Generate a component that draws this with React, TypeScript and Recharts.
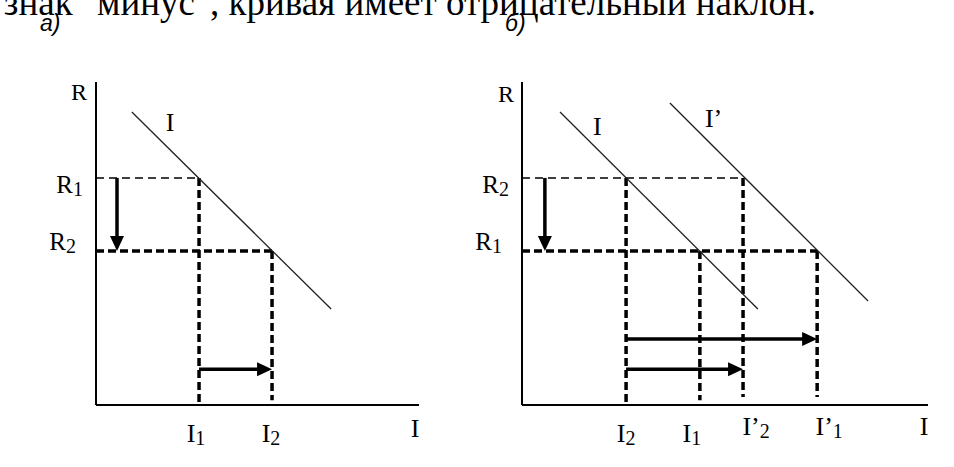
import React from 'react';
import { ComposedChart, Line, XAxis, YAxis, ReferenceLine, LabelList } from 'recharts';

// ---------- text ----------
const headerText = 'знак "минус", кривая имеет отрицательный наклон.';
const panelTitles = ['а)', 'б)'];
const axisNames = { y: 'R', x: 'I' };

// ---------- panel а) ----------
const leftYTicks = [7.03, 4.77];
const leftYLabels = ['R1', 'R2'];
const leftXTicks = [3.19, 5.45];
const leftXLabels = ['I1', 'I2'];
const leftCurve = [
  { x: 1.11, y: 9.07 },
  { x: 7.28, y: 2.97 },
];
const leftCurveName = 'I';
const leftThinGuides = [[{ x: 0, y: 7.03 }, { x: 3.19, y: 7.03 }]];
const leftThickGuides = [
  [{ x: 0, y: 4.77 }, { x: 5.45, y: 4.77 }],
  [{ x: 3.19, y: 7.03 }, { x: 3.19, y: 0 }],
  [{ x: 5.45, y: 4.77 }, { x: 5.45, y: 0.15 }],
];
const leftArrows = [
  [{ x: 0.65, y: 7.03 }, { x: 0.65, y: 4.77 }],
  [{ x: 3.19, y: 1.11 }, { x: 5.45, y: 1.11 }],
];

// ---------- panel б) ----------
const rightYTicks = [7.03, 4.77];
const rightYLabels = ['R2', 'R1'];
const rightXTicks = [3.23, 5.52, 6.86, 9.16];
const rightXLabels = ['I2', 'I1', 'I’2', 'I’1'];
const rightCurveI = [
  { x: 1.18, y: 9.07 },
  { x: 7.32, y: 2.97 },
];
const rightCurveIp = [
  { x: 4.59, y: 9.35 },
  { x: 10.74, y: 3.22 },
];
const rightCurveNames = ['I', 'I’'];
const rightThinGuides = [[{ x: 0, y: 7.03 }, { x: 6.86, y: 7.03 }]];
const rightThickGuides = [
  [{ x: 0, y: 4.77 }, { x: 9.16, y: 4.77 }],
  [{ x: 3.23, y: 7.03 }, { x: 3.23, y: 0 }],
  [{ x: 5.52, y: 4.77 }, { x: 5.52, y: 0.15 }],
  [{ x: 6.86, y: 7.03 }, { x: 6.86, y: 0.25 }],
  [{ x: 9.16, y: 4.77 }, { x: 9.16, y: 0.25 }],
];
const rightArrows = [
  [{ x: 0.71, y: 7.03 }, { x: 0.71, y: 4.77 }],
  [{ x: 3.23, y: 2.04 }, { x: 9.16, y: 2.04 }],
  [{ x: 3.23, y: 1.11 }, { x: 6.86, y: 1.11 }],
];

// ---------- styles ----------
const SERIF = '"Liberation Serif", "Times New Roman", serif';
const SANS = '"Liberation Sans", Arial, sans-serif';
const MAIN_SIZE = 26;
const SUB_SIZE = 20;
const leftXTickOffsets = [{ dx: -3, dy: 37 }, { dx: -1, dy: 37 }];
const rightXTickOffsets = [
  { dx: 0, dy: 37 },
  { dx: -8, dy: 37 },
  { dx: 13, dy: 30 },
  { dx: 12, dy: 30 },
];
const yTickOffsets = [{ dx: -13, dy: 15 }, { dx: -20, dy: -1 }];

const subLabel = (label: string) => {
  const main = label.slice(0, -1);
  const sub = label.slice(-1);
  return (
    <>
      {main}
      <tspan fontSize={SUB_SIZE} dy={3}>{sub}</tspan>
    </>
  );
};

const makeXTick = (ticks: number[], labels: string[], offsets: { dx: number; dy: number }[]) =>
  (props: any) => {
    const { x, y, payload } = props;
    const i = ticks.indexOf(payload.value);
    if (i < 0) return <g />;
    return (
      <text x={x + offsets[i].dx} y={y + offsets[i].dy} textAnchor="middle" fontFamily={SERIF} fontSize={MAIN_SIZE} fill="#000">
        {subLabel(labels[i])}
      </text>
    );
  };

const makeYTick = (ticks: number[], labels: string[]) => (props: any) => {
  const { x, y, payload } = props;
  const i = ticks.indexOf(payload.value);
  if (i < 0) return <g />;
  return (
    <text x={x + yTickOffsets[i].dx} y={y + yTickOffsets[i].dy} textAnchor="end" fontFamily={SERIF} fontSize={25} fill="#000">
      {subLabel(labels[i])}
    </text>
  );
};

const makeYName = (dx: number, dy: number) => (props: any) => {
  const vb = props.viewBox || {};
  return (
    <text x={vb.x + vb.width + dx} y={vb.y + dy} textAnchor="middle" fontFamily={SERIF} fontSize={24} fill="#000">
      {axisNames.y}
    </text>
  );
};

const makeXName = (dx: number, dy: number) => (props: any) => {
  const vb = props.viewBox || {};
  return (
    <text x={vb.x + vb.width + dx} y={vb.y + dy} textAnchor="middle" fontFamily={SERIF} fontSize={MAIN_SIZE} fill="#000">
      {axisNames.x}
    </text>
  );
};

const makeCurveLabel = (name: string, dx: number, dy: number) => (props: any) => {
  if (props.index !== 0) return null;
  return (
    <text x={props.x + dx} y={props.y + dy} textAnchor="start" fontFamily={SERIF} fontSize={MAIN_SIZE} fill="#000">
      {name}
    </text>
  );
};

const arrowShape = (props: any) => {
  const { x1, y1, x2, y2 } = props;
  const dx = x2 - x1;
  const dy = y2 - y1;
  const len = Math.hypot(dx, dy) || 1;
  const ux = dx / len;
  const uy = dy / len;
  const hl = 15;
  const hw = 7;
  const bx = x2 - ux * hl;
  const by = y2 - uy * hl;
  const px = -uy;
  const py = ux;
  return (
    <g>
      <line x1={x1} y1={y1} x2={bx + ux} y2={by + uy} stroke="#000" strokeWidth={3.5} />
      <polygon points={`${x2},${y2} ${bx + px * hw},${by + py * hw} ${bx - px * hw},${by - py * hw}`} fill="#000" />
    </g>
  );
};

const guideLines = (segs: any[], thick: boolean, prefix: string) =>
  segs.map((s, i) => (
    <ReferenceLine
      key={prefix + i}
      segment={s}
      ifOverflow="visible"
      stroke="#000"
      strokeWidth={thick ? 3.5 : 1.5}
      strokeDasharray={thick ? '8 4' : '8 5'}
    />
  ));

const arrowLines = (segs: any[], prefix: string) =>
  segs.map((s, i) => (
    <ReferenceLine key={prefix + i} segment={s} ifOverflow="visible" stroke="#000" shape={arrowShape} />
  ));

const axisLineStyle = { stroke: '#000', strokeWidth: 2 };

export default function App() {
  return (
    <div style={{ position: 'absolute', left: 0, top: 0, width: 954, height: 467, background: '#fff', overflow: 'hidden' }}>
      <svg width={954} height={467} style={{ position: 'absolute', left: 0, top: 0 }}>
        <text x={816} y={15} textAnchor="end" fontFamily={SERIF} fontSize={37} fill="#000">
          {headerText}
        </text>
        <text x={40} y={31} fontFamily={SANS} fontStyle="italic" fontSize={23} fill="#000">
          {panelTitles[0]}
        </text>
        <text x={505} y={31} fontFamily={SANS} fontStyle="italic" fontSize={23} fill="#000">
          {panelTitles[1]}
        </text>
      </svg>

      <div style={{ position: 'absolute', left: 0, top: 0 }}>
        <ComposedChart width={470} height={467} margin={{ top: 82, right: 51, bottom: 32, left: 36 }}>
          <XAxis
            type="number"
            dataKey="x"
            domain={[0, 10]}
            ticks={leftXTicks}
            interval={0}
            allowDataOverflow
            tickLine={false}
            tickSize={0}
            tickMargin={0}
            axisLine={axisLineStyle}
            tick={makeXTick(leftXTicks, leftXLabels, leftXTickOffsets)}
            label={makeXName(-4, 32)}
          />
          <YAxis
            type="number"
            domain={[0, 10]}
            ticks={leftYTicks}
            interval={0}
            allowDataOverflow
            tickLine={false}
            tickSize={0}
            tickMargin={0}
            axisLine={axisLineStyle}
            tick={makeYTick(leftYTicks, leftYLabels)}
            label={makeYName(-17, 18)}
          />
          {guideLines(leftThinGuides, false, 'lt')}
          {guideLines(leftThickGuides, true, 'lk')}
          <Line data={leftCurve} dataKey="y" stroke="#222" strokeWidth={1.3} dot={false} activeDot={false} isAnimationActive={false}>
            <LabelList dataKey="y" content={makeCurveLabel(leftCurveName, 34, 19)} />
          </Line>
          {arrowLines(leftArrows, 'la')}
        </ComposedChart>
      </div>

      <div style={{ position: 'absolute', left: 470, top: 0 }}>
        <ComposedChart width={484} height={467} margin={{ top: 82, right: 26, bottom: 32, left: 12 }}>
          <XAxis
            type="number"
            dataKey="x"
            domain={[0, 12.6]}
            ticks={rightXTicks}
            interval={0}
            allowDataOverflow
            tickLine={false}
            tickSize={0}
            tickMargin={0}
            axisLine={axisLineStyle}
            tick={makeXTick(rightXTicks, rightXLabels, rightXTickOffsets)}
            label={makeXName(-4, 30)}
          />
          <YAxis
            type="number"
            width={40}
            domain={[0, 10]}
            ticks={rightYTicks}
            interval={0}
            allowDataOverflow
            tickLine={false}
            tickSize={0}
            tickMargin={0}
            axisLine={axisLineStyle}
            tick={makeYTick(rightYTicks, rightYLabels)}
            label={makeYName(-16, 20)}
          />
          {guideLines(rightThinGuides, false, 'rt')}
          {guideLines(rightThickGuides, true, 'rk')}
          <Line data={rightCurveI} dataKey="y" stroke="#222" strokeWidth={1.3} dot={false} activeDot={false} isAnimationActive={false}>
            <LabelList dataKey="y" content={makeCurveLabel(rightCurveNames[0], 33, 23)} />
          </Line>
          <Line data={rightCurveIp} dataKey="y" stroke="#222" strokeWidth={1.3} dot={false} activeDot={false} isAnimationActive={false}>
            <LabelList dataKey="y" content={makeCurveLabel(rightCurveNames[1], 35, 24)} />
          </Line>
          {arrowLines(rightArrows, 'ra')}
        </ComposedChart>
      </div>
    </div>
  );
}
